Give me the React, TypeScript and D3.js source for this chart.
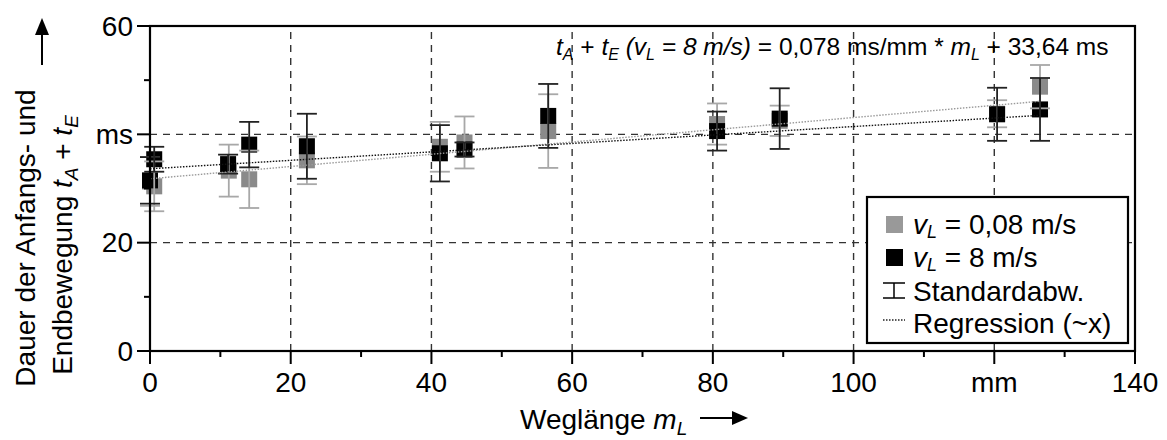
import React from "react";
import * as d3 from "d3";

// ---- data ----
const xMajorTicks = [0, 20, 40, 60, 80, 100, 120, 140];
const xTickLabels = ["0", "20", "40", "60", "80", "100", "mm", "140"];
const xMinorTicks = [10, 30, 50, 70, 90, 110, 130];
const yMajorTicks = [0, 20, 40, 60];
const yTickLabels = ["0", "20", "ms", "60"];
const yMinorTicks = [10, 30, 50];
const xGrid = [20, 40, 60, 80, 100, 120];
const yGrid = [20, 40];

// v_L = 0,08 m/s (gray)
const slowX = [0, 0.6, 11.2, 14.1, 22.3, 41.2, 44.7, 56.6, 80.6, 89.5, 120.4, 126.5];
const slowY = [31.3, 30.4, 33.3, 31.7, 35.2, 37.7, 38.5, 40.6, 41.9, 42.5, 43.8, 48.8];
const slowSd = [4.5, 4.6, 4.8, 5.3, 4.4, 4.6, 4.8, 6.8, 3.8, 2.8, 2.5, 4.0];

// v_L = 8 m/s (black)
const fastX = [0, 0.6, 11.1, 14.1, 22.3, 41.2, 44.7, 56.6, 80.6, 89.5, 120.4, 126.5];
const fastY = [31.5, 35.4, 34.5, 38.1, 37.8, 36.5, 37.2, 43.4, 40.6, 42.9, 43.7, 44.6];
const fastSd = [4.3, 2.3, 1.75, 4.2, 6.0, 5.2, 1.3, 5.9, 3.6, 5.6, 4.9, 5.8];

// regression (~x): intercept, slope
const slowFit = [31.8, 0.113];
const fastFit = [33.64, 0.078];
const fitRange = [0, 126.5];

const FONT = "'Liberation Sans', Arial, Helvetica, sans-serif";

export default function App() {
  const W = 1167, H = 440;
  const x = d3.scaleLinear().domain([0, 140]).range([150, 1135]);
  const y = d3.scaleLinear().domain([0, 60]).range([351, 26]);
  const sq = 16;
  const cap = 10;

  const fitPath = (fit: number[]) =>
    d3.line<number>().x((d) => x(d)).y((d) => y(fit[0] + fit[1] * d))(fitRange);

  const squares = (xs: number[], ys: number[], fill: string) =>
    xs.map((v, i) => (
      <rect key={i} x={x(v) - sq / 2} y={y(ys[i]) - sq / 2} width={sq} height={sq} fill={fill} />
    ));

  const errs = (xs: number[], ys: number[], sds: number[], stroke: string) =>
    xs.map((v, i) => {
      const cx = x(v);
      const t = y(ys[i] + sds[i]);
      const b = y(ys[i] - sds[i]);
      return (
        <g key={i} stroke={stroke} strokeWidth={1.8}>
          <line x1={cx} x2={cx} y1={t} y2={b} />
          <line x1={cx - cap} x2={cx + cap} y1={t} y2={t} />
          <line x1={cx - cap} x2={cx + cap} y1={b} y2={b} />
        </g>
      );
    });

  const x0 = x(0), x1 = x(140), y0 = y(0), y1 = y(60);

  return (
    <svg
      width={W}
      height={H}
      style={{ position: "absolute", left: 0, top: 0, background: "#fff" }}
      fontFamily={FONT}
    >
      {/* grid */}
      <g stroke="#333" strokeWidth={1.4} strokeDasharray="7,6">
        {xGrid.map((g) => (
          <line key={"gx" + g} x1={x(g)} x2={x(g)} y1={y0} y2={y1} />
        ))}
        {yGrid.map((g) => (
          <line key={"gy" + g} x1={x0} x2={x1} y1={y(g)} y2={y(g)} />
        ))}
      </g>

      {/* markers */}
      {squares(slowX, slowY, "#8a8a8a")}
      {squares(fastX, fastY, "#000")}
      {errs(slowX, slowY, slowSd, "#a8a8a8")}
      {errs(fastX, fastY, fastSd, "#222")}

      {/* regression */}
      <path d={fitPath(slowFit) || ""} fill="none" stroke="#999" strokeWidth={1.4} strokeDasharray="1.5,1.5" />
      <path d={fitPath(fastFit) || ""} fill="none" stroke="#111" strokeWidth={1.4} strokeDasharray="1.5,1.5" />

      {/* frame */}
      <rect x={x0} y={y1} width={x1 - x0} height={y0 - y1} fill="none" stroke="#000" strokeWidth={2.2} />

      {/* ticks */}
      <g stroke="#000" strokeWidth={2}>
        {xMajorTicks.map((t) => (
          <line key={"xt" + t} x1={x(t)} x2={x(t)} y1={y0} y2={y0 + 13} />
        ))}
        {xMinorTicks.map((t) => (
          <line key={"xm" + t} x1={x(t)} x2={x(t)} y1={y0} y2={y0 + 6} />
        ))}
        {yMajorTicks.map((t) => (
          <line key={"yt" + t} x1={x0 - 13} x2={x0} y1={y(t)} y2={y(t)} />
        ))}
        {yMinorTicks.map((t) => (
          <line key={"ym" + t} x1={x0 - 6} x2={x0} y1={y(t)} y2={y(t)} />
        ))}
      </g>

      {/* tick labels */}
      <g fontSize={28} fill="#000">
        {xMajorTicks.map((t, i) => (
          <text key={"xl" + t} x={x(t)} y={392} textAnchor="middle">
            {xTickLabels[i]}
          </text>
        ))}
        {yMajorTicks.map((t, i) => (
          <text key={"yl" + t} x={133} y={y(t)} dy="0.35em" textAnchor="end">
            {yTickLabels[i]}
          </text>
        ))}
      </g>

      {/* x label */}
      <text x={520} y={429} fontSize={28}>
        Weglänge <tspan fontStyle="italic">m</tspan>
        <tspan fontSize={19} dy={6} fontStyle="italic">L</tspan>
      </text>
      <line x1={700} x2={735} y1={418} y2={418} stroke="#000" strokeWidth={2} />
      <polygon points="748,418 732,411 732,425" fill="#000" />

      {/* y label */}
      <g transform="translate(35,238) rotate(-90)">
        <text x={0} y={0} textAnchor="middle" fontSize={28}>
          Dauer der Anfangs- und
        </text>
      </g>
      <g transform="translate(72,245) rotate(-90)">
        <text x={0} y={0} textAnchor="middle" fontSize={28}>
          Endbewegung <tspan fontStyle="italic">t</tspan>
          <tspan fontSize={19} dy={6} fontStyle="italic">A</tspan>
          <tspan dy={-6}> + </tspan>
          <tspan fontStyle="italic">t</tspan>
          <tspan fontSize={19} dy={6} fontStyle="italic">E</tspan>
        </text>
      </g>
      <line x1={42} x2={42} y1={65} y2={30} stroke="#000" strokeWidth={2} />
      <polygon points="42,18 35,35 49,35" fill="#000" />

      {/* equation */}
      <text x={556} y={55} fontSize={24.5}>
        <tspan fontStyle="italic">t</tspan>
        <tspan fontSize={16} dy={5} fontStyle="italic">A</tspan>
        <tspan dy={-5}> + </tspan>
        <tspan fontStyle="italic">t</tspan>
        <tspan fontSize={16} dy={5} fontStyle="italic">E</tspan>
        <tspan dy={-5} fontStyle="italic"> (v</tspan>
        <tspan fontSize={16} dy={5} fontStyle="italic">L</tspan>
        <tspan dy={-5} fontStyle="italic"> = 8 m/s)</tspan>
        <tspan> = 0,078 ms/mm * </tspan>
        <tspan fontStyle="italic">m</tspan>
        <tspan fontSize={16} dy={5} fontStyle="italic">L</tspan>
        <tspan dy={-5}> + 33,64 ms</tspan>
      </text>

      {/* legend */}
      <rect x={867} y={197} width={261} height={146} fill="#fff" stroke="#000" strokeWidth={2.2} />
      <rect x={886} y={216} width={17} height={17} fill="#999" />
      <rect x={886} y={249} width={17} height={17} fill="#000" />
      <g stroke="#000" strokeWidth={1.5}>
        <line x1={883} x2={905} y1={283} y2={283} />
        <line x1={883} x2={905} y1={298} y2={298} />
        <line x1={894} x2={894} y1={283} y2={298} />
      </g>
      <line x1={883} x2={905} y1={320} y2={320} stroke="#222" strokeWidth={1.4} strokeDasharray="1.5,1.5" />
      <g fontSize={28} fill="#000">
        <text x={913} y={234}>
          <tspan fontStyle="italic">v</tspan>
          <tspan fontSize={18} dy={4} fontStyle="italic">L</tspan>
          <tspan dy={-4}> = 0,08 m/s</tspan>
        </text>
        <text x={913} y={267}>
          <tspan fontStyle="italic">v</tspan>
          <tspan fontSize={18} dy={4} fontStyle="italic">L</tspan>
          <tspan dy={-4}> = 8 m/s</tspan>
        </text>
        <text x={913} y={301}>Standardabw.</text>
        <text x={913} y={333}>Regression (~x)</text>
      </g>
    </svg>
  );
}
